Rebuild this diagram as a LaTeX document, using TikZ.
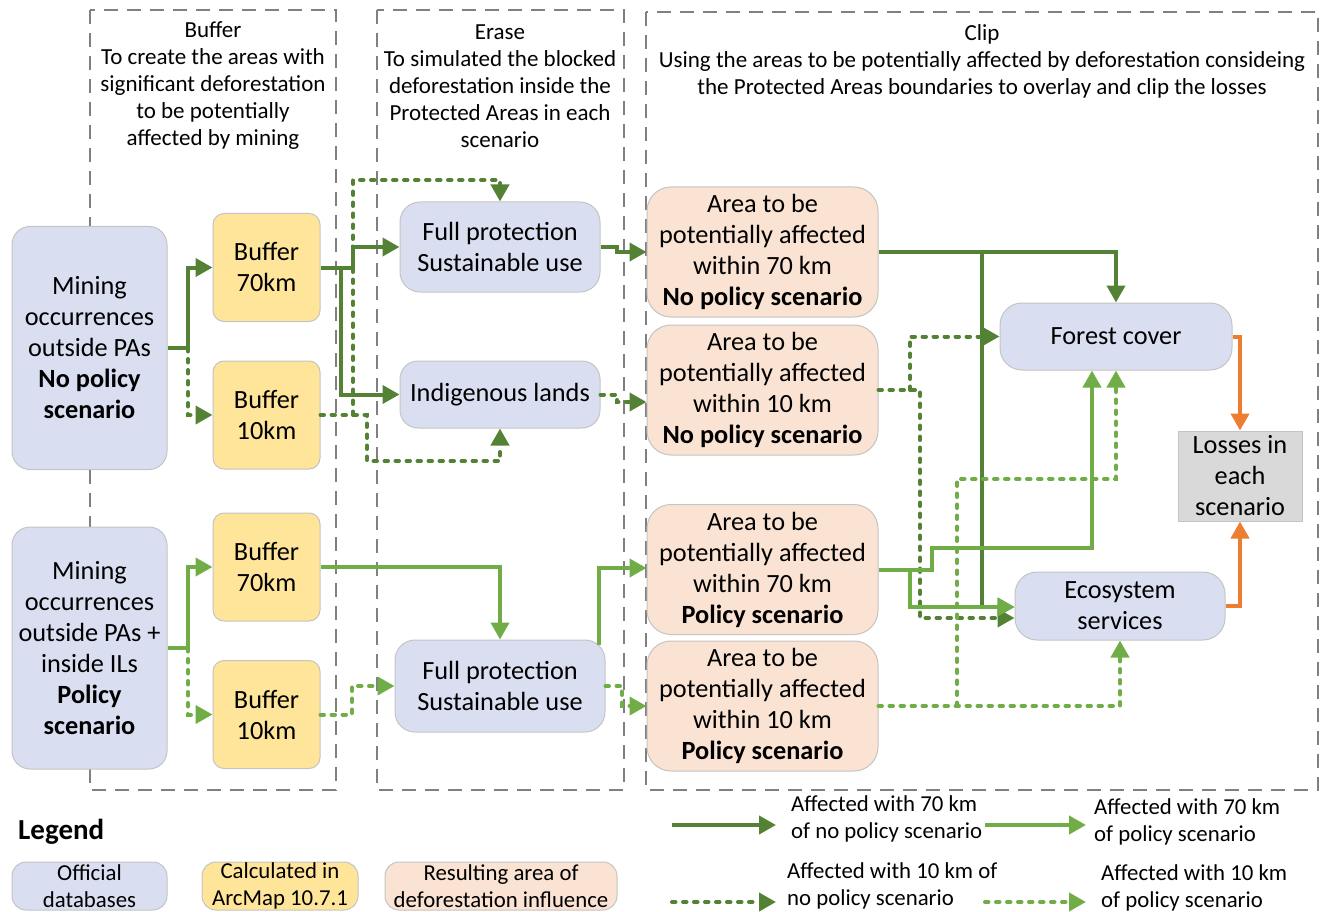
\documentclass[tikz,border=0pt]{standalone}
\usepackage{fontspec}
\setmainfont{Carlito}
\usetikzlibrary{arrows.meta}
\definecolor{dkg}{HTML}{548235}
\definecolor{ltg}{HTML}{70AD47}
\definecolor{org}{HTML}{ED7D31}
\definecolor{bluef}{HTML}{D9DFF1}
\definecolor{yelf}{HTML}{FFE599}
\definecolor{peachf}{HTML}{FBE3D3}
\definecolor{lossf}{HTML}{D9D9D9}
\definecolor{boxline}{HTML}{C4C4C4}
\definecolor{grp}{HTML}{808080}
\begin{document}
\begin{tikzpicture}[x=1pt,y=-1pt,
  box/.style={draw=boxline, line width=1pt, align=center, inner sep=0pt,
    font=\fontsize{26.3}{31}\selectfont},
  ofbox/.style={box, fill=bluef},
  calcbox/.style={box, fill=yelf, rounded corners=11pt, minimum width=107pt, minimum height=108pt},
  resbox/.style={box, fill=peachf, rounded corners=24pt, minimum width=231pt, minimum height=130pt},
  lgbox/.style={draw=boxline, line width=1pt, align=center, inner sep=0pt,
    font=\fontsize{22.8}{27}\selectfont, minimum height=48pt, rounded corners=14pt},
  hdr/.style={align=center, inner sep=0pt, font=\fontsize{23}{27}\selectfont},
  lgtext/.style={align=left, inner sep=0pt, anchor=west, font=\fontsize{22.8}{27}\selectfont},
  grpbox/.style={draw=grp, line width=2pt, dash pattern=on 14pt off 9pt},
  conn/.style={line width=4pt, -{Triangle[length=17pt,width=18pt]}},
  d70/.style={conn, draw=dkg},
  d10/.style={conn, draw=dkg, line cap=round, dash pattern=on 3.5pt off 7.5pt},
  l70/.style={conn, draw=ltg},
  l10/.style={conn, draw=ltg, line cap=round, dash pattern=on 3.5pt off 7.5pt},
  orarr/.style={conn, draw=org}
]
\useasboundingbox (0,0) rectangle (1320,912);

% group boxes
\draw[grpbox] (90,10) rectangle (336,790);
\draw[grpbox] (377,10) rectangle (624,790);
\draw[grpbox] (646,12) rectangle (1318,790);

% headers
\node[hdr] (hbuf) at (213,85.5) {Buffer\\To create the areas with\\significant deforestation\\to be potentially\\affected by mining};
\node[hdr] (hera) at (500,86.5) {Erase\\To simulated the blocked\\deforestation inside the\\Protected Areas in each\\scenario};
\node[hdr] (hclip) at (982,61) {Clip\\Using the areas to be potentially affected by deforestation consideing\\the Protected Areas boundaries to overlay and clip the losses};

% nodes
\node[ofbox, rounded corners=18pt, minimum width=155pt, minimum height=243pt] (m1) at (89.5,348)
  {Mining\\occurrences\\outside PAs\\\textbf{No policy}\\\textbf{scenario}};
\node[ofbox, rounded corners=18pt, minimum width=155pt, minimum height=242pt] (m2) at (89.5,648)
  {Mining\\occurrences\\outside PAs +\\inside ILs\\\textbf{Policy}\\\textbf{scenario}};
\node[calcbox] (b70a) at (266.5,267.5) {Buffer\\70km};
\node[calcbox] (b10a) at (266.5,415) {Buffer\\10km};
\node[calcbox] (b70b) at (266.5,567) {Buffer\\70km};
\node[calcbox] (b10b) at (266.5,714.5) {Buffer\\10km};
\node[ofbox, rounded corners=20pt, minimum width=200pt, minimum height=90pt] (fp1) at (500,247) {Full protection\\Sustainable use};
\node[ofbox, rounded corners=18pt, minimum width=200pt, minimum height=67pt] (il) at (500,394.5) {Indigenous lands};
\node[ofbox, rounded corners=20pt, minimum width=210pt, minimum height=92pt] (fp2) at (500,686) {Full protection\\Sustainable use};
\node[resbox] (a1) at (762.5,252) {Area to be\\potentially affected\\within 70 km\\\textbf{No policy scenario}};
\node[resbox] (a2) at (762.5,390) {Area to be\\potentially affected\\within 10 km\\\textbf{No policy scenario}};
\node[resbox] (a3) at (762.5,569.5) {Area to be\\potentially affected\\within 70 km\\\textbf{Policy scenario}};
\node[resbox] (a4) at (762.5,706) {Area to be\\potentially affected\\within 10 km\\\textbf{Policy scenario}};
\node[ofbox, rounded corners=22pt, minimum width=232pt, minimum height=67pt] (fc) at (1116,336.5) {Forest cover};
\node[ofbox, rounded corners=22pt, minimum width=210pt, minimum height=68pt] (es) at (1120,606) {Ecosystem\\services};
\node[box, fill=lossf, minimum width=124pt, minimum height=90pt] (loss) at (1240,476) {Losses in\\each\\scenario};

% junctions
\coordinate (s1) at (188,348);
\coordinate (s2) at (341,267.5);
\coordinate (s3) at (353,415);
\coordinate (s4) at (982,252);
\coordinate (s5) at (910,390);
\coordinate (s6) at (188,648);
\coordinate (s7) at (910,569.5);
\coordinate (s8) at (957,706);

% no policy 70 km
\draw[d70] (m1.east) -- (s1) |- (b70a.west);
\draw[d70] (b70a.east) -- (353,267.5) |- (fp1.west);
\draw[d70] (s2) |- (il.west);
\draw[d70] (fp1.east) -- (617,247) -- (617,252) -- (a1.west);
\draw[d70] (a1.east) -| (fc.north);
\draw[d70] (s4) |- ([yshift=-1pt]es.west);

% no policy 10 km
\draw[d10] (s1) |- (b10a.west);
\draw[d10] (b10a.east) -| (367,461) -| (il.south);
\draw[d10] (s3) -- (353,180) -| (fp1.north);
\draw[d10] (il.east) -- (617,394.5) -- (617,402) -- ([yshift=-12pt]a2.west);
\draw[d10] (a2.east) -- (920,390) |- ([yshift=-12pt]es.west);
\draw[d10] (s5) |- (fc.west);

% policy 70 km
\draw[l70] (m2.east) -- (s6) |- (b70b.west);
\draw[l70] (b70b.east) -| (fp2.north);
\draw[l70] ([xshift=-7pt,yshift=-5pt]fp2.north east) |- ([yshift=1.5pt]a3.west);
\draw[l70] (a3.east) -- (932,569.5) -- (932,548) -| ([xshift=-24pt]fc.south);
\draw[l70] (s7) |- ([yshift=-1pt]es.west);

% policy 10 km
\draw[l10] (s6) |- (b10b.west);
\draw[l10] (b10b.east) -- (352,714.5) |- (fp2.west);
\draw[l10] (fp2.east) -- (622,686) |- (a4.west);
\draw[l10] (a4.east) -| (es.south);
\draw[l10] (s8) -- (957,479) -| (fc.south);

% losses
\draw[orarr] (fc.east) -| (loss.north);
\draw[orarr] (es.east) -| (loss.south);

% legend
\node[anchor=west, inner sep=0pt, font=\fontsize{29}{32}\selectfont\bfseries] (lgt) at (18,832) {Legend};
\node[lgbox, fill=bluef, minimum width=155pt] (lg1) at (89.5,886) {Official\\databases};
\node[lgbox, fill=yelf, minimum width=156pt] (lg2) at (280,886) {Calculated in\\ArcMap 10.7.1};
\node[lgbox, fill=peachf, minimum width=232pt] (lg3) at (501,886) {Resulting area of\\deforestation influence};

\coordinate (k1a) at (672,825); \coordinate (k1b) at (776,825);
\coordinate (k2a) at (985,825); \coordinate (k2b) at (1086,825);
\coordinate (k3a) at (672,902); \coordinate (k3b) at (776,902);
\coordinate (k4a) at (985,902); \coordinate (k4b) at (1086,902);
\draw[d70] (k1a) -- (k1b);
\draw[l70] (k2a) -- (k2b);
\draw[d10] (k3a) -- (k3b);
\draw[l10] (k4a) -- (k4b);
\node[lgtext] (t1) at (791,819) {Affected with 70 km\\of no policy scenario};
\node[lgtext] (t2) at (1094,822) {Affected with 70 km\\of policy scenario};
\node[lgtext] (t3) at (787,886) {Affected with 10 km of\\no policy scenario};
\node[lgtext] (t4) at (1101,887.5) {Affected with 10 km\\of policy scenario};
\end{tikzpicture}
\end{document}
